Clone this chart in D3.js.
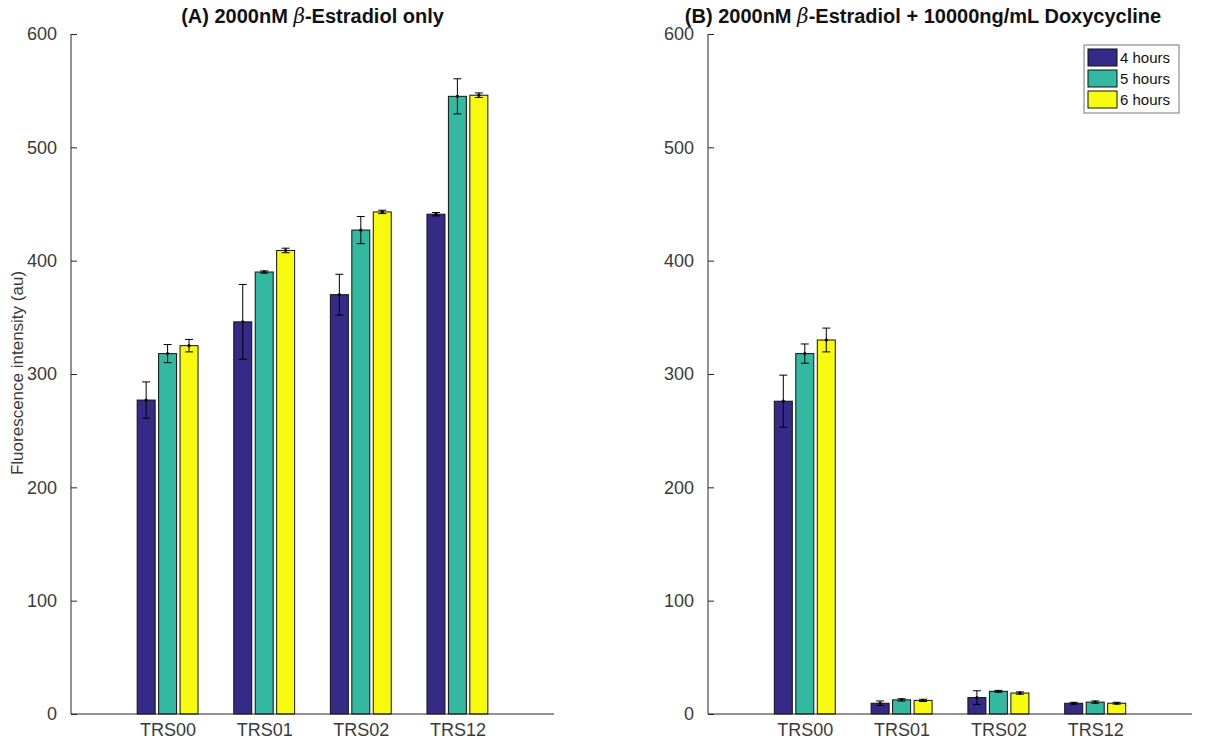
<!DOCTYPE html>
<html>
<head>
<meta charset="utf-8">
<script src="https://cdn.jsdelivr.net/npm/d3@7"></script>
<style>
  html, body { margin: 0; padding: 0; background: #fff; }
  svg { display: block; font-family: "Liberation Sans", Arial, sans-serif; }
</style>
</head>
<body>
<svg id="chart" width="1207" height="744"></svg>
<script>
// Strains on the x axis and induction times (one bar per time point)
const categories = ["TRS00", "TRS01", "TRS02", "TRS12"];
const seriesNames = ["4 hours", "5 hours", "6 hours"];
const seriesColors = ["#352a87", "#33b8a1", "#f9fb0e"];
const yTicks = [0, 100, 200, 300, 400, 500, 600];

// Panel A: 2000nM beta-estradiol only — mean and error per strain
const estradiolMean4h = [277, 346, 370, 441];
const estradiolMean5h = [318, 390, 427, 545];
const estradiolMean6h = [325, 409, 443, 546];
const estradiolErr4h = [16, 33, 18, 1.5];
const estradiolErr5h = [8, 1, 12, 15.5];
const estradiolErr6h = [5.5, 2, 1.5, 2];

// Panel B: 2000nM beta-estradiol + 10000ng/mL doxycycline
const doxMean4h = [276, 9.5, 14.5, 9.5];
const doxMean5h = [318, 12.5, 20, 10.5];
const doxMean6h = [330, 12, 18.5, 9.5];
const doxErr4h = [23, 2, 6, 0.8];
const doxErr5h = [8.5, 1, 0.8, 1];
const doxErr6h = [10.5, 1, 1, 0.8];

const panels = [
  {
    left: 71, right: 554,
    titleX: 312.5,
    prefix: "(A) 2000nM ", suffix: "-Estradiol only",
    means: [estradiolMean4h, estradiolMean5h, estradiolMean6h],
    errs: [estradiolErr4h, estradiolErr5h, estradiolErr6h],
    ylabel: true, legend: false
  },
  {
    left: 708, right: 1192,
    titleX: 923,
    prefix: "(B) 2000nM ", suffix: "-Estradiol + 10000ng/mL Doxycycline",
    means: [doxMean4h, doxMean5h, doxMean6h],
    errs: [doxErr4h, doxErr5h, doxErr6h],
    ylabel: false, legend: true
  }
];

const svg = d3.select("#chart");
const plotTop = 34, plotBottom = 714;
const axisColor = "#262626";
const textColor = "#3a3a3a";

const y = d3.scaleLinear().domain([0, 600]).range([plotBottom, plotTop]);

// Grouped-bar geometry in data units (categories sit at 1..4 on a 0..5 axis)
const groupOffsets = [-0.222, 0, 0.222];
const barWidth = 0.186;

panels.forEach(p => {
  const x = d3.scaleLinear().domain([0, 5]).range([p.left, p.right]);
  const g = svg.append("g");

  // bars
  p.means.forEach((vals, s) => {
    g.selectAll(null)
      .data(vals.map((v, i) => ({ v, i })))
      .join("rect")
      .attr("x", d => x(d.i + 1 + groupOffsets[s] - barWidth / 2))
      .attr("width", x(barWidth) - x(0))
      .attr("y", d => y(d.v))
      .attr("height", d => y(0) - y(d.v))
      .attr("fill", seriesColors[s])
      .attr("stroke", "#111")
      .attr("stroke-width", 1);
  });

  // error bars
  p.means.forEach((vals, s) => {
    const data = vals.map((v, i) => ({ v, i, e: p.errs[s][i] }));
    const cx = d => x(d.i + 1 + groupOffsets[s]);
    const eb = g.selectAll(null).data(data).join("g").attr("stroke", "#000").attr("stroke-width", 1);
    eb.append("line")
      .attr("x1", cx).attr("x2", cx)
      .attr("y1", d => y(d.v - d.e)).attr("y2", d => y(d.v + d.e));
    eb.append("line")
      .attr("x1", d => cx(d) - 4).attr("x2", d => cx(d) + 4)
      .attr("y1", d => y(d.v + d.e)).attr("y2", d => y(d.v + d.e));
    eb.append("line")
      .attr("x1", d => cx(d) - 4).attr("x2", d => cx(d) + 4)
      .attr("y1", d => y(d.v - d.e)).attr("y2", d => y(d.v - d.e));
    eb.append("circle")
      .attr("cx", cx).attr("cy", d => y(d.v)).attr("r", 1.6)
      .attr("fill", "#000").attr("stroke", "none");
  });

  // y axis (ticks pointing inward)
  const yAxis = g.append("g")
    .attr("transform", `translate(${p.left},0)`)
    .call(d3.axisLeft(y).tickValues(yTicks).tickSize(-6).tickPadding(14).tickFormat(d3.format("d")));
  yAxis.select(".domain").attr("stroke", axisColor).attr("d", `M0,${plotTop}V${plotBottom}`);
  yAxis.selectAll(".tick line").attr("stroke", axisColor);
  yAxis.selectAll(".tick text").attr("fill", textColor).attr("font-size", 18)
    .attr("font-family", "Liberation Sans, Arial, sans-serif");

  // x axis
  const xAxis = g.append("g")
    .attr("transform", `translate(0,${plotBottom})`)
    .call(d3.axisBottom(x).tickValues([1, 2, 3, 4]).tickSize(0).tickPadding(9)
      .tickFormat(d => categories[d - 1]));
  xAxis.select(".domain").attr("stroke", axisColor).attr("d", `M${p.left},0H${p.right}`);
  xAxis.selectAll(".tick text").attr("fill", textColor).attr("font-size", 18)
    .attr("font-family", "Liberation Sans, Arial, sans-serif");

  // title with italic beta
  const t = g.append("text")
    .attr("x", p.titleX).attr("y", 23)
    .attr("text-anchor", "middle")
    .attr("font-size", 20).attr("font-weight", "bold").attr("fill", "#111");
  t.append("tspan").text(p.prefix);
  t.append("tspan").attr("font-style", "italic").attr("font-weight", "normal")
    .attr("font-family", "DejaVu Serif, serif").text("β");
  t.append("tspan").text(p.suffix);

  if (p.ylabel) {
    g.append("text")
      .attr("transform", `translate(23,${(plotTop + plotBottom) / 2 - 1}) rotate(-90)`)
      .attr("text-anchor", "middle")
      .attr("font-size", 17).attr("fill", textColor)
      .text("Fluorescence intensity (au)");
  }

  if (p.legend) {
    const lg = g.append("g").attr("transform", "translate(1084,45)");
    lg.append("rect").attr("width", 95).attr("height", 68)
      .attr("fill", "#fff").attr("stroke", "#777").attr("stroke-width", 1);
    seriesNames.forEach((name, s) => {
      lg.append("rect")
        .attr("x", 4).attr("y", 4 + s * 21).attr("width", 29).attr("height", 17)
        .attr("fill", seriesColors[s]).attr("stroke", "#111");
      lg.append("text")
        .attr("x", 36).attr("y", 18 + s * 21)
        .attr("font-size", 15).attr("fill", "#111").text(name);
    });
  }
});
</script>
</body>
</html>
